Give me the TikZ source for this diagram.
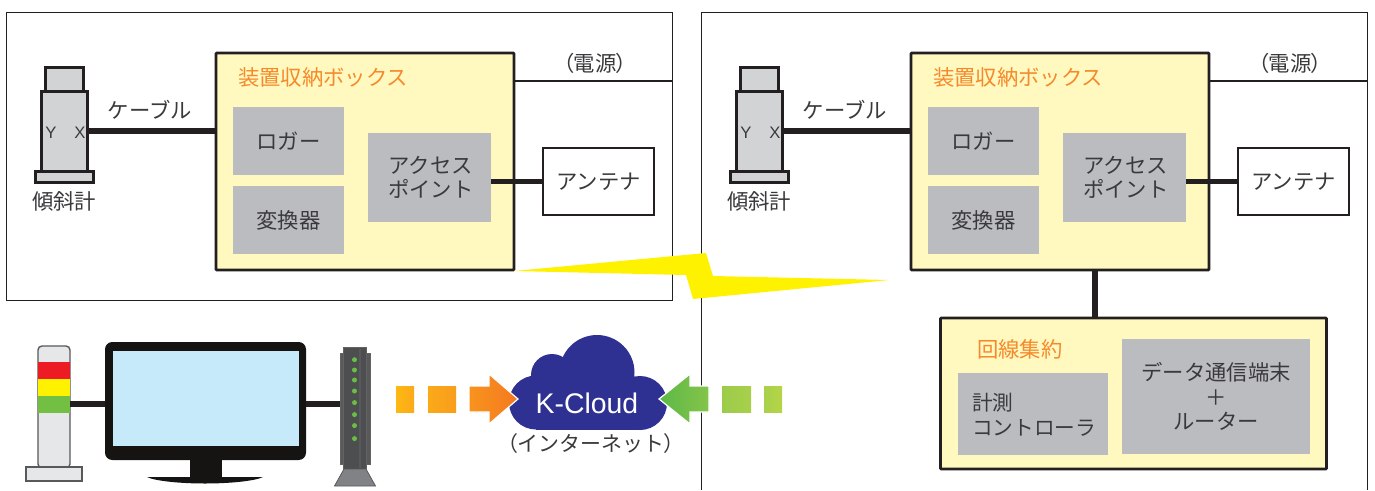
\documentclass[tikz,border=0pt]{standalone}
\usepackage{fontspec}
\setmainfont{Noto Sans CJK JP}
\newfontfamily\cjkp[RawFeature={+palt}]{Noto Sans CJK JP}
\newfontfamily\latinf{Liberation Sans}
\newcommand{\myL}{{\cjkp （}}
\newcommand{\myR}{{\cjkp ）}}
\definecolor{ink}{HTML}{231F20}
\definecolor{txt}{HTML}{3A3A3C}
\definecolor{pale}{HTML}{FFF9C0}
\definecolor{graybox}{HTML}{BBBCC0}
\definecolor{sens}{HTML}{D1D3D4}
\definecolor{orangetxt}{HTML}{F58A2C}
\definecolor{boltc}{HTML}{FFF200}
\definecolor{towerg}{HTML}{E6E7E8}
\definecolor{towerl}{HTML}{58595B}
\definecolor{towerr}{HTML}{ED1C24}
\definecolor{towern}{HTML}{72BF44}
\definecolor{routerb}{HTML}{4D4E50}
\definecolor{routerf}{HTML}{808285}
\definecolor{screenc}{HTML}{C7EAFB}
\definecolor{monc}{HTML}{151412}
\definecolor{cloudc}{HTML}{2E3192}
\definecolor{leds}{HTML}{6ABD45}
\definecolor{orA}{HTML}{FDB913}
\definecolor{orB}{HTML}{FBA919}
\definecolor{orC}{HTML}{F99D1C}
\definecolor{orD}{HTML}{F8931D}
\definecolor{orE}{HTML}{F47920}
\definecolor{grA}{HTML}{B5D548}
\definecolor{grB}{HTML}{A8D04A}
\definecolor{grC}{HTML}{9CCB4B}
\definecolor{grD}{HTML}{85C44A}
\definecolor{grE}{HTML}{5BB947}
\tikzset{
  x=0.75pt,y=-0.75pt,
  wh/.style 2 args={minimum width=#1*0.75pt,minimum height=#2*0.75pt,inner sep=0pt,outer sep=0pt},
  lbl/.style={text=txt,font=\fontsize{16pt}{18.4pt}\selectfont,align=center,inner sep=0pt},
  title/.style={text=orangetxt,font=\fontsize{16pt}{18.4pt}\selectfont,inner sep=0pt},
  frameline/.style={draw=ink,line width=1.0*0.75pt},
  thick wire/.style={draw=ink,line width=5.6*0.75pt},
  thin wire/.style={draw=ink,line width=2.2*0.75pt},
  sensbox/.style={draw=ink,fill=sens,line width=3*0.75pt},
  palebox/.style={draw=ink,fill=pale,line width=2.8*0.75pt,rounded corners=0.6pt},
  grayrect/.style={fill=graybox,lbl},
  whitebox/.style={draw=ink,fill=white,line width=2.6*0.75pt,lbl},
  axisl/.style={text=txt,font=\latinf\fontsize{12.5pt}{14pt}\selectfont,inner sep=0pt},
}
\newcommand{\station}[1]{%
  \node[sensbox,wh={38}{24}] (#1cap) at (64,79) {};
  \node[sensbox,wh={46}{80}] (#1body) at (64,131) {};
  \node[sensbox,wh={58}{11}] (#1base) at (64,176.5) {};
  \node[axisl] (#1y) at (51,133) {Y};
  \node[axisl] (#1x) at (80,133) {X};
  \node[lbl] (#1sl) at (64,201) {傾斜計};
  \node[palebox,wh={298}{217}] (#1yb) at (365,161.5) {};
  \node[title,anchor=west] (#1yt) at (238,77) {装置収納ボックス};
  \node[grayrect,wh={111}{68}] (#1log) at (288.5,141) {ロガー};
  \node[grayrect,wh={111}{68}] (#1conv) at (288.5,220) {変換器};
  \node[grayrect,wh={123}{89}] (#1ap) at (429.5,177.5) {\hspace{2pt}\raisebox{1pt}{アクセス}\\\hspace{2pt}\raisebox{1pt}{ポイント}};
  \node[whitebox,wh={111}{67}] (#1ant) at (598.5,181.5) {アンテナ};
  \node[lbl] (#1cl) at (150,110) {ケーブル};
  \node[lbl] (#1pl) at (595,63) {\myL 電源\myR};
  \draw[thick wire] (#1body.east) -- (#1body.east -| #1yb.west);
  \draw[thick wire] (#1ant.west) -- (#1ant.west -| #1ap.east);
}
\begin{document}
\begin{tikzpicture}
\useasboundingbox (0,0) rectangle (1375,490);
\fill[white] (0,0) rectangle (1375,490);
% frames
\draw[frameline] (6,12) rectangle (672,300);
\draw[frameline] (701,490) -- (701,12) -- (1367,12) -- (1367,490);
% stations
\station{a}
\coordinate (apw) at (672,81);
\draw[thin wire] (ayb.east |- apw) -- (apw);
\begin{scope}[shift={(695,0)}]
\station{b}
\coordinate (bpw) at (672,81);
\draw[thin wire] (byb.east |- bpw) -- (bpw);
\end{scope}
% bolt
\fill[boltc] (514,271) -- (706,253) -- (713,276) -- (889,280) -- (693,299) -- (686,275) -- cycle;
% concentrator
\node[palebox,wh={386}{151}] (conc) at (1133.5,393.5) {};
\node[title,anchor=west] (conct) at (977,349.5) {回線集約};
\node[grayrect,wh={150}{82}] (meas) at (1033,414) {};
\node[lbl,font=\fontsize{15.5pt}{18.4pt}\selectfont,anchor=north west,align=left] (meast) at (972,393) {計測\\コントローラ};
\node[grayrect,wh={188}{115}] (dev) at (1216,396.5) {データ通信端末\\＋\\ルーター};
\coordinate (jn) at (1095,318);
\draw[thick wire] (jn |- byb.south) -- (jn |- conc.north);
% tower
\node[draw=towerl,fill=towerg,line width=1.4*0.75pt,rounded corners=3pt,wh={32}{122}] (tower) at (54,407) {};
\fill[towerr] (38,362) rectangle (70,379);
\fill[boltc] (38,379) rectangle (70,396);
\fill[towern] (38,396) rectangle (70,413);
\node[draw=towerl,fill=towerg,line width=1.4*0.75pt,wh={56}{14}] (tbase) at (54,474) {};
% monitor
\fill[monc] (190,458) rectangle (222,478);
\fill[monc] (147,477) -- (263,477) .. controls (255,481) and (230,483.5) .. (205,483.5) .. controls (180,483.5) and (155,481) .. (147,477) -- cycle;
\node[fill=monc,rounded corners=5.5pt,wh={201}{118}] (mon) at (205.5,401) {};
\node[fill=screenc,wh={186}{95}] (scr) at (206,398.5) {};
% router
\node[draw=ink!70,fill=towerl,line width=0.7*0.75pt,wh={30}{111}] (rback) at (355,408.5) {};
\node[draw=ink!70,fill=routerb,line width=0.8*0.75pt,wh={23}{122}] (rbody) at (354.5,408) {};
\fill[towerl] (359,349) rectangle (360.5,468);
\fill[draw=towerl,fill=routerf,line width=0.8*0.75pt] (344,469) -- (334.5,486) -- (375.5,486) -- (366,469) -- cycle;
\foreach \ly in {359.7,370,380,391,402.6,414.6,425.6,438.6}
  \fill[leds] (354.5,\ly) circle[radius=2.5*0.75pt];
% wires bottom left
\coordinate (wy) at (0,404);
\draw[thick wire] (tower.east |- wy) -- (mon.west |- wy);
\draw[thick wire] (mon.east |- wy) -- (rback.west |- wy);
% cloud
\fill[cloudc] (597,372.5) circle[radius=37.5*0.75pt]
  (552,375) circle[radius=21*0.75pt]
  (532,399) circle[radius=21*0.75pt]
  (536,402.5) circle[radius=27*0.75pt]
  (640,403) circle[radius=27*0.75pt]
  (636,400) circle[radius=22*0.75pt];
\fill[cloudc] (536,380) rectangle (640,429.5);
\node[text=white,font=\latinf\fontsize{21.3pt}{24pt}\selectfont,inner sep=0pt] (kc) at (587,403) {K-Cloud};
\node[lbl,font=\fontsize{15.7pt}{18pt}\selectfont] (inet) at (591,444) {\myL インターネット\myR};
% orange arrow
\shade[left color=orA,right color=orB] (396,386) rectangle (414,412);
\shade[left color=orB,right color=orC] (428,386) rectangle (456,412);
\shade[left color=orD,right color=orE,draw=white,line width=0.9pt] (469,386) -- (489,386) -- (489,374) -- (518,399) -- (489,424) -- (489,412) -- (469,412) -- cycle;
% green arrow
\shade[right color=grA,left color=grB] (764,386) rectangle (782,412);
\shade[right color=grB,left color=grC] (722,386) rectangle (751,412);
\shade[right color=grD,left color=grE,draw=white,line width=0.9pt] (709,386) -- (690,386) -- (690,374) -- (659,399) -- (690,424) -- (690,412) -- (709,412) -- cycle;
\end{tikzpicture}
\end{document}
